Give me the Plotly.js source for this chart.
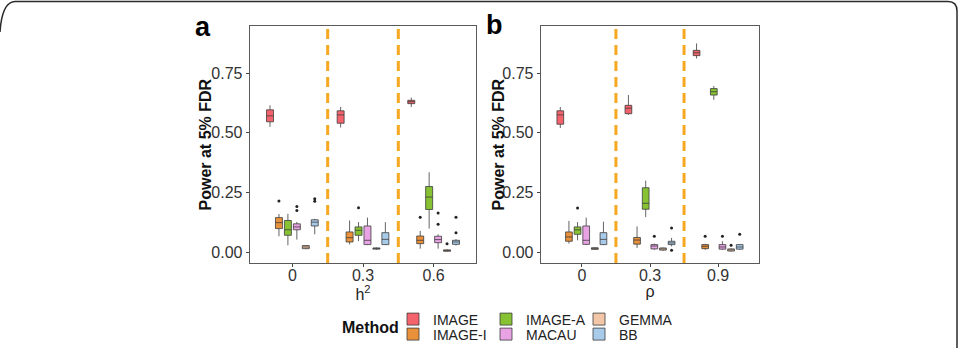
<!DOCTYPE html>
<html>
<head>
<meta charset="utf-8">
<script src="https://cdn.plot.ly/plotly-3.0.1.min.js"></script>
<style>html,body{margin:0;padding:0;background:#fff;}#chart{width:963px;height:348px;}</style>
</head>
<body>
<div id="chart"></div>
<script>
// ---------- DATA ----------
const methods = ['IMAGE', 'IMAGE-I', 'IMAGE-A', 'MACAU', 'GEMMA', 'BB'];
const h2Levels = ['0', '0.3', '0.6'];
const rhoLevels = ['0', '0.3', '0.9'];

// five-number summaries per level: [lower whisker, q1, median, q3, upper whisker]
// Panel a (h^2)
const a_IMAGE  = [[0.525, 0.546, 0.571, 0.596, 0.615], [0.522, 0.540, 0.575, 0.592, 0.608], [0.608, 0.622, 0.630, 0.636, 0.647]];
const a_IMAGEI = [[0.067, 0.099, 0.124, 0.145, 0.160], [0.033, 0.043, 0.061, 0.085, 0.133], [0.015, 0.036, 0.050, 0.068, 0.089]];
const a_IMAGEA = [[0.029, 0.071, 0.094, 0.133, 0.161], [0.047, 0.071, 0.092, 0.106, 0.126], [0.099, 0.179, 0.231, 0.275, 0.335]];
const a_MACAU  = [[0.053, 0.094, 0.106, 0.119, 0.127], [0.030, 0.032, 0.050, 0.110, 0.145], [0.015, 0.040, 0.053, 0.067, 0.075]];
const a_GEMMA  = [[0.013, 0.015, 0.022, 0.028, 0.030], [0.010, 0.013, 0.016, 0.018, 0.020], [0.002, 0.004, 0.007, 0.010, 0.012]];
const a_BB     = [[0.075, 0.110, 0.126, 0.136, 0.140], [0.030, 0.032, 0.054, 0.082, 0.126], [0.028, 0.033, 0.043, 0.050, 0.055]];
// outliers per level
const a_IMAGE_out  = [[], [], []];
const a_IMAGEI_out = [[0.214], [], [0.147]];
const a_IMAGEA_out = [[], [0.186], []];
const a_MACAU_out  = [[0.175, 0.192], [], [0.117, 0.164]];
const a_GEMMA_out  = [[], [], [0.036]];
const a_BB_out     = [[0.213, 0.224], [], [0.082, 0.147]];

// Panel b (rho)
const b_IMAGE  = [[0.520, 0.536, 0.575, 0.592, 0.608], [0.575, 0.580, 0.603, 0.615, 0.658], [0.811, 0.823, 0.835, 0.845, 0.874]];
const b_IMAGEI = [[0.036, 0.046, 0.064, 0.085, 0.131], [0.018, 0.034, 0.051, 0.062, 0.108], [0.010, 0.015, 0.025, 0.032, 0.035]];
const b_IMAGEA = [[0.050, 0.075, 0.094, 0.106, 0.126], [0.147, 0.180, 0.205, 0.270, 0.300], [0.638, 0.658, 0.672, 0.685, 0.696]];
const b_MACAU  = [[0.030, 0.033, 0.050, 0.110, 0.145], [0.010, 0.014, 0.026, 0.032, 0.036], [0.010, 0.013, 0.022, 0.032, 0.046]];
const b_GEMMA  = [[0.010, 0.012, 0.016, 0.019, 0.021], [0.006, 0.009, 0.014, 0.018, 0.020], [0.003, 0.005, 0.010, 0.014, 0.016]];
const b_BB     = [[0.030, 0.032, 0.054, 0.082, 0.128], [0.025, 0.032, 0.039, 0.046, 0.060], [0.010, 0.013, 0.022, 0.032, 0.034]];
const b_IMAGE_out  = [[], [], []];
const b_IMAGEI_out = [[], [], [0.067]];
const b_IMAGEA_out = [[0.185], [], []];
const b_MACAU_out  = [[], [0.067], [0.067]];
const b_GEMMA_out  = [[], [], [0.029]];
const b_BB_out     = [[], [0.008, 0.101], [0.075]];

// ---------- STYLE ----------
const colors = ['#F4636B', '#E8903A', '#86C232', '#E9A3E5', '#F2C6A6', '#A9CBEA'];
const W = 963, H = 348;
const px = v => v / W;
const py = v => 1 - v / H;
const FONT = 'Liberation Sans, Arial, sans-serif';

const panelA = [a_IMAGE, a_IMAGEI, a_IMAGEA, a_MACAU, a_GEMMA, a_BB];
const panelAOut = [a_IMAGE_out, a_IMAGEI_out, a_IMAGEA_out, a_MACAU_out, a_GEMMA_out, a_BB_out];
const panelB = [b_IMAGE, b_IMAGEI, b_IMAGEA, b_MACAU, b_GEMMA, b_BB];
const panelBOut = [b_IMAGE_out, b_IMAGEI_out, b_IMAGEA_out, b_MACAU_out, b_GEMMA_out, b_BB_out];
const legendOf = ['legend', 'legend2', 'legend', 'legend2', 'legend', 'legend2'];

function makeBox(stats, outs, levels, i, xa, ya, show, panel) {
  // sample arrays per box: the outliers; a box without outliers gets its own
  // median as a sample (inside the fences, so it is never drawn)
  const samples = outs.map((o, k) => (o.length ? o : [stats[k][2]]));
  return {
    type: 'box',
    name: methods[i],
    legend: legendOf[i],
    showlegend: show,
    legendgroup: methods[i],
    alignmentgroup: panel,
    offsetgroup: methods[i],
    x: levels,
    y: samples,
    lowerfence: stats.map(s => s[0]),
    q1: stats.map(s => s[1]),
    median: stats.map(s => s[2]),
    q3: stats.map(s => s[3]),
    upperfence: stats.map(s => s[4]),
    boxpoints: 'outliers',
    jitter: 0,
    pointpos: 0,
    xaxis: xa,
    yaxis: ya,
    fillcolor: colors[i],
    line: {color: '#3c3c3c', width: 0.8},
    marker: {color: '#222', size: 3, outliercolor: '#222', line: {width: 0}},
    whiskerwidth: 0,
    hoverinfo: 'skip'
  };
}

const traces = [];
for (let i = 0; i < methods.length; i++) traces.push(makeBox(panelA[i], panelAOut[i], h2Levels, i, 'x', 'y', true, 'a'));
for (let i = 0; i < methods.length; i++) traces.push(makeBox(panelB[i], panelBOut[i], rhoLevels, i, 'x2', 'y2', false, 'b'));

const yRange = [-0.045, 0.947];
const tickFont = {family: FONT, size: 16, color: '#333'};
function xAxis(domain, titleText) {
  return {
    domain: domain, type: 'category', range: [-0.6, 2.6],
    showline: true, mirror: true, linecolor: '#5a5a5a', linewidth: 1.3,
    ticks: 'outside', ticklen: 3, tickcolor: '#444', tickwidth: 1,
    ticklabelstandoff: -6,
    showgrid: false, zeroline: false, tickfont: tickFont,
    title: {text: titleText, font: {family: FONT, size: 16, color: '#222'}, standoff: 0},
    fixedrange: true
  };
}
function yAxis(anchor) {
  return {
    domain: [py(263), py(26)], anchor: anchor, range: yRange,
    tickvals: [0, 0.25, 0.5, 0.75], tickformat: '.2f',
    showline: true, mirror: true, linecolor: '#5a5a5a', linewidth: 1.3,
    ticks: 'outside', ticklen: 3, tickcolor: '#444', tickwidth: 1,
    showgrid: false, zeroline: false, tickfont: tickFont,
    fixedrange: true
  };
}

const dashLine = (xref, yref, xv) => ({
  type: 'line', xref: xref, yref: yref + ' domain', x0: xv, x1: xv, y0: 0, y1: 1,
  line: {color: '#F6A821', width: 3, dash: '10px,6px'}
});

const frame = {
  type: 'path', xref: 'paper', yref: 'paper',
  path: `M ${px(0)},${py(32)} Q ${px(2)},${py(2)} ${px(15)},${py(1.5)} L ${px(948)},${py(1.5)} Q ${px(957)},${py(1.5)} ${px(957)},${py(11)} L ${px(957)},${py(349)}`,
  line: {color: '#2a2a2a', width: 1.5}
};

const legendBase = {
  orientation: 'h', xanchor: 'left', yanchor: 'middle',
  bgcolor: 'rgba(0,0,0,0)', borderwidth: 0,
  font: {family: FONT, size: 14, color: '#222'},
  entrywidth: 48, entrywidthmode: 'pixels',
  itemclick: false, itemdoubleclick: false, tracegroupgap: 0
};

const yTitleFont = {family: FONT, size: 16, color: '#111', weight: 'bold'};
const plotMid = py((26 + 263) / 2);

const layout = {
  width: W, height: H,
  margin: {l: 0, r: 0, t: 0, b: 0, autoexpand: false},
  paper_bgcolor: '#fff', plot_bgcolor: '#fff',
  boxmode: 'group', boxgap: 0.24, boxgroupgap: 0.22,
  xaxis: xAxis([px(250), px(476)], 'h<sup>2</sup>'),
  xaxis2: Object.assign(xAxis([px(541), px(759)], 'ρ'), {anchor: 'y2'}),
  yaxis: yAxis('x'),
  yaxis2: yAxis('x2'),
  showlegend: true,
  legend: Object.assign({}, legendBase, {x: px(393), y: py(319.5)}),
  legend2: Object.assign({}, legendBase, {x: px(393), y: py(334.5)}),
  shapes: [dashLine('x', 'y', 0.5), dashLine('x', 'y', 1.5), dashLine('x2', 'y2', 0.5), dashLine('x2', 'y2', 1.5), frame],
  annotations: [
    {text: 'Power at 5% FDR', textangle: -90, xref: 'paper', yref: 'paper', x: px(205), y: plotMid,
     xanchor: 'center', yanchor: 'middle', showarrow: false, font: yTitleFont},
    {text: 'Power at 5% FDR', textangle: -90, xref: 'paper', yref: 'paper', x: px(498), y: plotMid,
     xanchor: 'center', yanchor: 'middle', showarrow: false, font: yTitleFont},
    {text: 'a', xref: 'paper', yref: 'paper', x: px(203), y: py(27), xanchor: 'center', yanchor: 'middle', showarrow: false,
     font: {family: FONT, size: 27, color: '#000', weight: 'bold'}},
    {text: 'b', xref: 'paper', yref: 'paper', x: px(495), y: py(25), xanchor: 'center', yanchor: 'middle', showarrow: false,
     font: {family: FONT, size: 27, color: '#000', weight: 'bold'}},
    {text: 'Method', xref: 'paper', yref: 'paper', x: px(340), y: py(327), xanchor: 'left', yanchor: 'middle', showarrow: false,
     font: {family: FONT, size: 16, color: '#111', weight: 'bold'}}
  ]
};

Plotly.newPlot('chart', traces, layout, {staticPlot: true, displayModeBar: false});
</script>
</body>
</html>
